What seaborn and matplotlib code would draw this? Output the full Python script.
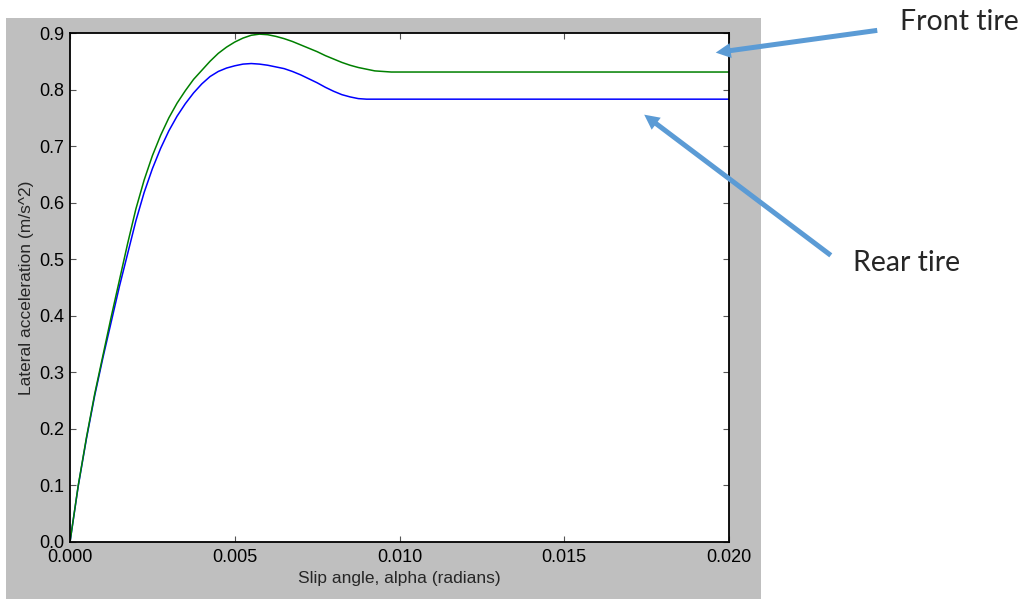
import matplotlib
matplotlib.use('Agg')
import matplotlib.pyplot as plt
import seaborn as sns
import pandas as pd
from matplotlib.patches import Rectangle, FancyArrowPatch

# slip angle (radians) and lateral acceleration
slip = [0, 0.00025, 0.0005, 0.00075, 0.001, 0.00125, 0.0015, 0.00175,
        0.002, 0.00225, 0.0025, 0.00275, 0.003, 0.00325, 0.0035, 0.00375,
        0.004, 0.00425, 0.0045, 0.00475, 0.005, 0.00525, 0.0055, 0.00575,
        0.006, 0.00625, 0.0065, 0.00675, 0.007, 0.00725, 0.0075, 0.00775,
        0.008, 0.00825, 0.0085, 0.00875, 0.009, 0.00925, 0.0095, 0.00975,
        0.010, 0.015, 0.020]
front = [0, 0.100, 0.185, 0.262, 0.330, 0.398, 0.463, 0.528,
         0.589, 0.640, 0.683, 0.719, 0.750, 0.776, 0.798, 0.818,
         0.834, 0.850, 0.864, 0.875, 0.884, 0.891, 0.896, 0.898,
         0.897, 0.894, 0.890, 0.885, 0.879, 0.873, 0.867, 0.860,
         0.854, 0.848, 0.843, 0.839, 0.836, 0.833, 0.832, 0.831,
         0.831, 0.831, 0.831]
rear = [0, 0.099, 0.183, 0.259, 0.326, 0.389, 0.452, 0.510,
        0.568, 0.618, 0.660, 0.696, 0.727, 0.753, 0.775, 0.794,
        0.810, 0.823, 0.832, 0.838, 0.842, 0.845, 0.846, 0.845,
        0.843, 0.840, 0.837, 0.832, 0.826, 0.819, 0.812, 0.804,
        0.797, 0.791, 0.787, 0.784, 0.783, 0.783, 0.783, 0.783,
        0.783, 0.783, 0.783]

x_ticks = [0.0, 0.005, 0.010, 0.015, 0.020]
y_ticks = [0.0, 0.1, 0.2, 0.3, 0.4, 0.5, 0.6, 0.7, 0.8, 0.9]


def main():
    sns.set_style('ticks')
    plt.rcParams['font.family'] = ['Liberation Sans', 'DejaVu Sans']

    W, H = 1025, 599
    fig = plt.figure(figsize=(W / 100, H / 100), dpi=100, facecolor='white')
    # grey figure panel behind the plot
    fig.add_artist(Rectangle((6 / W, 0), 755 / W, 581 / H, transform=fig.transFigure,
                             facecolor='#bfbfbf', edgecolor='none', zorder=0))

    ax = fig.add_axes([70 / W, (H - 542) / H, 659 / W, 509 / H])
    ax.set_facecolor('white')

    df = pd.DataFrame({
        'slip': slip * 2,
        'acc': rear + front,
        'tire': ['rear'] * len(slip) + ['front'] * len(slip),
    })
    sns.lineplot(data=df, x='slip', y='acc', hue='tire', sort=False,
                 palette={'rear': '#0000ff', 'front': '#008000'},
                 linewidth=1.1, legend=False, ax=ax)

    ax.set_xlim(0, 0.02)
    ax.set_ylim(0, 0.9)
    ax.set_xticks(x_ticks)
    ax.set_xticklabels(['%.3f' % v for v in x_ticks])
    ax.set_yticks(y_ticks)
    ax.set_yticklabels(['%.1f' % v for v in y_ticks])
    ax.tick_params(direction='in', length=4, width=0.8, color='#555555',
                   top=True, right=True, labelsize=13, labelcolor='black')
    ax.tick_params(axis='x', pad=5)
    ax.tick_params(axis='y', pad=4)
    for s in ax.spines.values():
        s.set_visible(True)
        s.set_linewidth(1.3)
        s.set_color('black')

    ax.set_xlabel('Slip angle, alpha (radians)', fontsize=12.5, labelpad=4)
    ax.set_ylabel('Lateral acceleration (m/s^2)', fontsize=12.5, labelpad=4)

    # callouts outside the plot
    blue = '#5b9bd5'
    for (x0, y0), (x1, y1) in [((880, 30), (713, 53)), ((833, 257), (642, 113))]:
        fig.add_artist(FancyArrowPatch((x0 / W, 1 - y0 / H), (x1 / W, 1 - y1 / H),
                                       transform=fig.transFigure,
                                       arrowstyle='simple,head_length=0.9,head_width=0.9,tail_width=0.3',
                                       mutation_scale=12, color=blue, lw=0))
    fig.text(900 / W, 1 - 22 / H, 'Front tire', fontsize=20.5, family=['Lato', 'DejaVu Sans'],
             ha='left', va='center')
    fig.text(853 / W, 1 - 263 / H, 'Rear tire', fontsize=20.5, family=['Lato', 'DejaVu Sans'],
             ha='left', va='center')

    fig.savefig('out.png', dpi=100, facecolor='white')


if __name__ == '__main__':
    main()
